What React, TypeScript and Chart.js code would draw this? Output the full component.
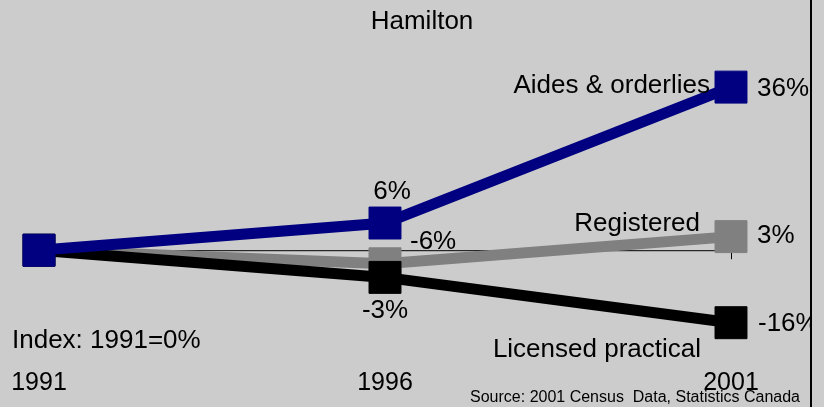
import React, { useEffect, useRef } from "react";
import { Chart, registerables } from "chart.js";

Chart.register(...registerables);

const years = ["1991", "1996", "2001"];
const aides = [0, 6, 36];
const registered = [0, -3, 3];
const licensed = [0, -6, -16];
const aidesLabels = ["", "6%", "36%"];
const registeredLabels = ["", "-6%", "3%"];
const licensedLabels = ["", "-3%", "-16%"];
const seriesNames = ["Aides & orderlies", "Licensed practical", "Registered"];
const subtitle = "Hamilton";
const indexNote = "Index: 1991=0%";
const sourceNote = "Source: 2001 Census  Data, Statistics Canada";

const FONT = '"Liberation Sans", Arial, sans-serif';

export default function App() {
  const ref = useRef<HTMLCanvasElement | null>(null);

  useEffect(() => {
    document.body.style.margin = "0";
    document.body.style.background = "#cccccc";
    const canvas = ref.current;
    if (!canvas) return;

    const valueLabelPlacement: Record<string, [number, number, string][]> = {
      "0": [[0, 0, "center"], [7, -31, "center"], [26, 2, "left"]],
      "1": [[0, 0, "center"], [0, 33, "center"], [27, 1, "left"]],
      "2": [[0, 0, "center"], [25, -22, "left"], [26, -1, "left"]],
    };
    const namePlacement: [number, number][] = [
      [-21, -1],
      [-30, 27],
      [-31, -13],
    ];
    const valueTexts = [aidesLabels, licensedLabels, registeredLabels];

    const zeroLine = {
      id: "zeroLine",
      beforeDatasetsDraw(chart: any) {
        const { ctx, scales } = chart;
        const y0 = scales.y.getPixelForValue(0);
        const xs = years.map((_, i) => scales.x.getPixelForValue(i));
        ctx.save();
        ctx.strokeStyle = "#000";
        ctx.lineWidth = 1;
        ctx.beginPath();
        ctx.moveTo(xs[0], y0 + 0.5);
        ctx.lineTo(xs[xs.length - 1], y0 + 0.5);
        xs.forEach((x) => {
          ctx.moveTo(Math.round(x) + 0.5, y0);
          ctx.lineTo(Math.round(x) + 0.5, y0 + 9);
        });
        ctx.stroke();
        ctx.restore();
      },
    };

    const textPlugin = {
      id: "texts",
      afterDraw(chart: any) {
        const { ctx, chartArea } = chart;
        ctx.save();
        ctx.beginPath();
        ctx.rect(0, 0, 810, chart.height);
        ctx.clip();
        ctx.fillStyle = "#000";
        ctx.textBaseline = "middle";
        ctx.font = `26px ${FONT}`;
        chart.data.datasets.forEach((ds: any, di: number) => {
          const meta = chart.getDatasetMeta(di);
          const texts = valueTexts[di];
          meta.data.forEach((pt: any, pi: number) => {
            const t = texts[pi];
            if (!t) return;
            const [dx, dy, align] = valueLabelPlacement[String(di)][pi];
            ctx.textAlign = align;
            ctx.fillText(t, pt.x + dx, pt.y + dy);
          });
          const last = meta.data[meta.data.length - 1];
          const [nx, ny] = namePlacement[di];
          ctx.textAlign = "right";
          ctx.fillText(seriesNames[di], last.x + nx, last.y + ny);
        });
        ctx.textAlign = "left";
        ctx.fillText(indexNote, chartArea.left - 27, 341);
        ctx.textAlign = "center";
        ctx.fillText(subtitle, chart.width / 2 + 10, 22);
        ctx.font = `16px ${FONT}`;
        ctx.textAlign = "right";
        ctx.fillText(sourceNote, 800, 398);
        ctx.restore();
        ctx.save();
        ctx.fillStyle = "#000";
        ctx.fillRect(810, 0, 2, chart.height);
        ctx.restore();
      },
    };

    const mk = (label: string, data: number[], color: string) => ({
      label,
      data,
      borderColor: color,
      backgroundColor: color,
      borderWidth: 11,
      pointStyle: "rect" as const,
      pointRadius: 22.6,
      pointHoverRadius: 22.6,
      pointBorderWidth: 1,
      pointBorderColor: color,
      pointBackgroundColor: color,
      tension: 0,
      clip: false as any,
    });

    const chart = new Chart(canvas, {
      type: "line",
      data: {
        labels: years,
        datasets: [
          mk(seriesNames[0], aides, "#000080"),
          mk(seriesNames[1], licensed, "#000000"),
          mk(seriesNames[2], registered, "#808080"),
        ],
      },
      options: {
        animation: false,
        responsive: true,
        maintainAspectRatio: false,
        layout: { padding: { top: 69, left: 39, right: 93, bottom: 0 } },
        plugins: {
          legend: { display: false },
          tooltip: { enabled: false },
          title: { display: false },
        },
        events: [],
        scales: {
          x: {
            type: "category",
            offset: false,
            grid: { display: false, drawTicks: false },
            border: { display: false },
            ticks: {
              color: "#000",
              font: { size: 25, family: FONT },
              padding: 0,
              autoSkip: false,
              maxRotation: 0,
            },
            afterFit: (scale: any) => {
              scale.height = 39;
            },
          },
          y: {
            display: false,
            min: -26,
            max: 40,
          },
        },
      },
      plugins: [zeroLine, textPlugin],
    });

    return () => chart.destroy();
  }, []);

  return (
    <div style={{ width: 824, height: 407, position: "relative", background: "#cccccc" }}>
      <canvas ref={ref} />
    </div>
  );
}
